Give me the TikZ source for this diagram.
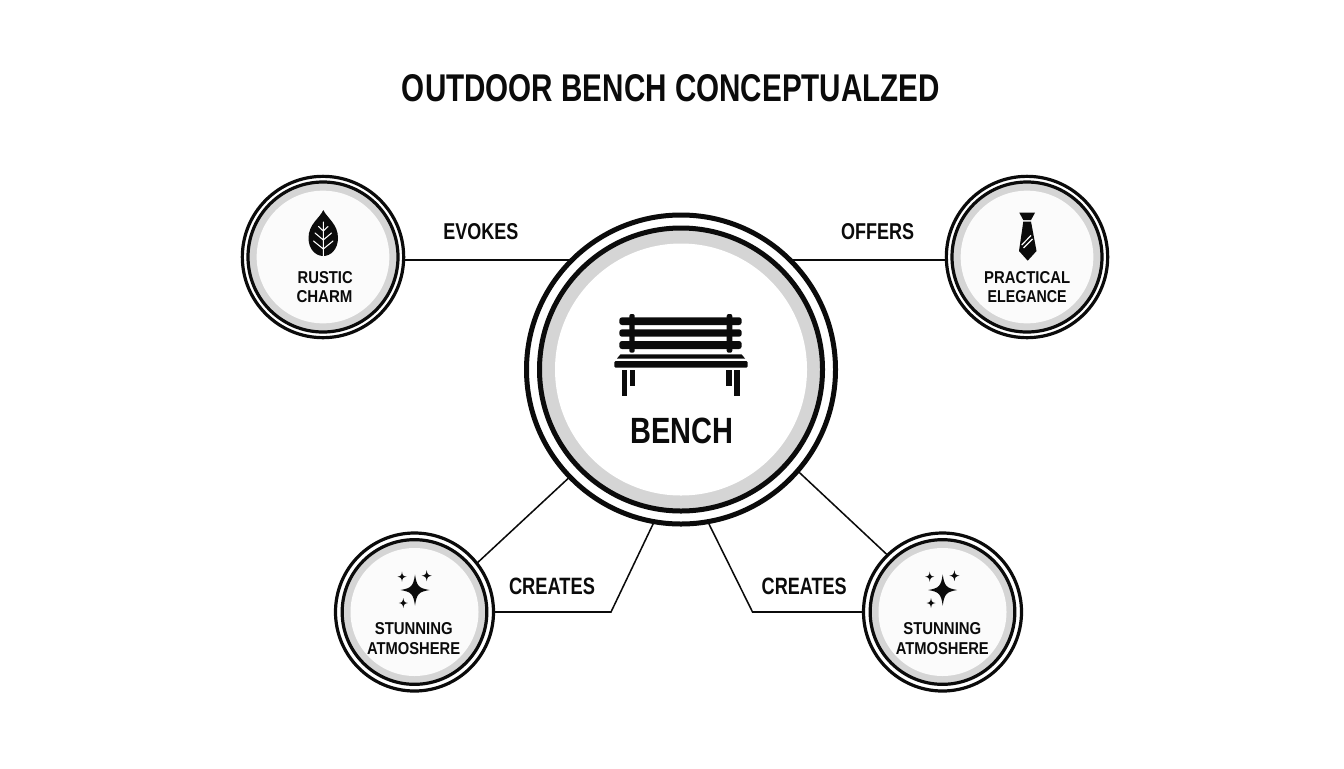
\documentclass[tikz,border=0pt]{standalone}
\usepackage{fontspec}
\setmainfont{Liberation Sans}
\newcommand{\fit}[3]{\resizebox{\dimexpr#1pt*3/4\relax}{\dimexpr#2pt*3/4\relax}{\bfseries #3}}
\newcommand{\sparkleicon}[4]{%
  \fill[ink] (#1,#2-#4) .. controls (#1+.12*#3,#2-.25*#4) and (#1+.25*#3,#2-.12*#4) .. (#1+#3,#2)
    .. controls (#1+.25*#3,#2+.12*#4) and (#1+.12*#3,#2+.25*#4) .. (#1,#2+#4)
    .. controls (#1-.12*#3,#2+.25*#4) and (#1-.25*#3,#2+.12*#4) .. (#1-#3,#2)
    .. controls (#1-.25*#3,#2-.12*#4) and (#1-.12*#3,#2-.25*#4) .. cycle;}
\definecolor{ink}{HTML}{0B0B0B}
\definecolor{ringgrey}{HTML}{D5D5D5}
\definecolor{softwhite}{HTML}{FBFBFB}
\tikzset{
  x=0.75pt,y=-0.75pt,
  ringbase/.style={circle,inner sep=0pt,outer sep=0pt},
  bigouter/.style={ringbase,draw=ink,line width=3.75pt,fill=white,minimum size=231.75pt},
  biginner/.style={ringbase,draw=ink,line width=3.75pt,fill=ringgrey,minimum size=212.25pt},
  bigcore/.style={ringbase,fill=white,minimum size=189pt},
  smallouter/.style={ringbase,draw=ink,line width=2.4pt,fill=white,minimum size=121pt},
  smallinner/.style={ringbase,draw=ink,line width=2.4pt,fill=ringgrey,minimum size=112.5pt},
  smallcore/.style={ringbase,fill=softwhite,minimum size=99.5pt},
  smallouterb/.style={smallouter,minimum size=118.5pt},
  smallinnerb/.style={smallinner,minimum size=108.5pt},
  smallcoreb/.style={smallcore,minimum size=96pt},
  txt/.style={inner sep=0pt,outer sep=0pt,text=ink},
  link/.style={draw=ink,line width=1.15pt,line join=miter},
  slat/.style={fill=ink,rounded corners=2pt},
}
\begin{document}
\begin{tikzpicture}
\useasboundingbox[fill=white] (0,0) rectangle (1344,768);

\node[txt] (title) at (671,88.5) {\fit{538}{27}{OUTDOOR BENCH CONCEPTUALZED}};

% circles (outer rings, used by the connectors)
\node[bigouter] (bench) at (681,369.5) {};
\node[smallouter] (rustic) at (323,257) {};
\node[smallouter] (practical) at (1027,257) {};
\node[smallouterb] (stunl) at (414.5,612) {};
\node[smallouterb] (stunr) at (942.5,612) {};

% connectors
\draw[link] (rustic.-2.2) -- (bench.134.9 |- rustic.-2.2);
\draw[link] (practical.182.2) -- (bench.45.1 |- practical.182.2);
\draw[link] (stunl.38.7) -- (bench.224.1);
\coordinate (bendl) at (611,612);
\coordinate (bendr) at (752.5,612);
\draw[link] (stunl.0) -- (bendl) -- (bench.260.5);
\draw[link] (stunr.134.7) -- (bench.-41.6);
\draw[link] (stunr.180) -- (bendr) -- (bench.-80);

% inner rings
\node[biginner] (benchring) at (bench) {};
\node[bigcore] (benchcore) at (bench) {};
\foreach \n in {rustic,practical}{
  \node[smallinner] (\n ring) at (\n) {};
  \node[smallcore] (\n core) at (\n) {};
}
\foreach \n in {stunl,stunr}{
  \node[smallinnerb] (\n ring) at (\n) {};
  \node[smallcoreb] (\n core) at (\n) {};
}

% connector labels
\node[txt] (evokes) at (480.8,231.3) {\fit{75}{16}{EVOKES}};
\node[txt] (offers) at (877.5,231.3) {\fit{73}{16}{OFFERS}};
\node[txt] (createsl) at (552,586) {\fit{86}{16.5}{CREATES}};
\node[txt] (createsr) at (804.2,586) {\fit{85}{16.5}{CREATES}};

% node labels
\node[txt] (benchlabel) at (682,431) {\fit{103}{25.5}{BENCH}};
\node[txt] (rustic1) at (325.2,277.5) {\fit{55}{12}{RUSTIC}};
\node[txt] (rustic2) at (324.5,296.7) {\fit{56}{12}{CHARM}};
\node[txt] (prac1) at (1027.2,277.3) {\fit{86}{12}{PRACTICAL}};
\node[txt] (prac2) at (1027.2,296.3) {\fit{79}{12}{ELEGANCE}};
\node[txt] (stunl1) at (413.8,629) {\fit{78}{12}{STUNNING}};
\node[txt] (stunl2) at (413.6,648.5) {\fit{93}{12}{ATMOSHERE}};
\node[txt] (stunr1) at (942.3,629) {\fit{78}{12}{STUNNING}};
\node[txt] (stunr2) at (942.3,648.5) {\fit{93}{12}{ATMOSHERE}};

% bench icon
\fill[slat] (619.3,317.3) rectangle (741.7,325);
\fill[slat] (619.3,329.3) rectangle (741.7,336.7);
\fill[slat] (619.3,341) rectangle (741.7,349);
\fill[ink,rounded corners=1.5pt] (629.3,352.7) -- (629.3,314) -- (634.7,314) -- (634.7,352.7) -- cycle;
\fill[ink,rounded corners=1.5pt] (726.7,352.7) -- (726.7,314) -- (732.3,314) -- (732.3,352.7) -- cycle;
\fill[ink] (617,358.5) -- (620.5,354.3) -- (741.5,354.3) -- (745,358.5) -- cycle;
\fill[ink,rounded corners=1pt] (614.3,361) rectangle (747.7,367.7);
\fill[ink] (621.7,370) rectangle (627.3,396.3);
\fill[ink] (630,370) rectangle (635.3,386);
\fill[ink] (726,370) rectangle (731.7,386);
\fill[ink] (734.3,370) rectangle (740,396.3);

% leaf icon
\fill[ink] (323.3,210) .. controls (327,218) and (338,224) .. (338,238)
  .. controls (338,249) and (331,256) .. (323.3,256)
  .. controls (315.5,256) and (308.5,249) .. (308.5,238)
  .. controls (308.5,224) and (320,218) .. cycle;
\draw[white,line width=0.8pt,line cap=round]
  (323.3,222) -- (323.3,256)
  (323.3,249) -- (313.5,241) (323.3,249) -- (333,241)
  (323.3,240) -- (315,233) (323.3,240) -- (331.5,233)
  (323.3,231) -- (318.5,226.5) (323.3,231) -- (328,226.5);

% tie icon
\fill[ink] (1019.3,212.7) -- (1035,212.7) -- (1031,220) -- (1023.3,220) -- cycle;
\fill[ink] (1023.3,221.5) -- (1031,221.5) -- (1036.5,251) -- (1027.7,260.7) -- (1019,251) -- cycle;
\draw[white,line width=0.9pt] (1021.7,245) -- (1031,235.5) (1023.5,248) -- (1032.5,239);

% sparkle icons
\foreach \dx in {0,527.7}{
  \sparkleicon{415+\dx}{590}{14.5}{15.5}
  \sparkleicon{402+\dx}{576.7}{4.5}{5}
  \sparkleicon{426.7+\dx}{575.7}{5}{5.5}
  \sparkleicon{403.3+\dx}{603}{4.5}{5}
}
\end{tikzpicture}
\end{document}
